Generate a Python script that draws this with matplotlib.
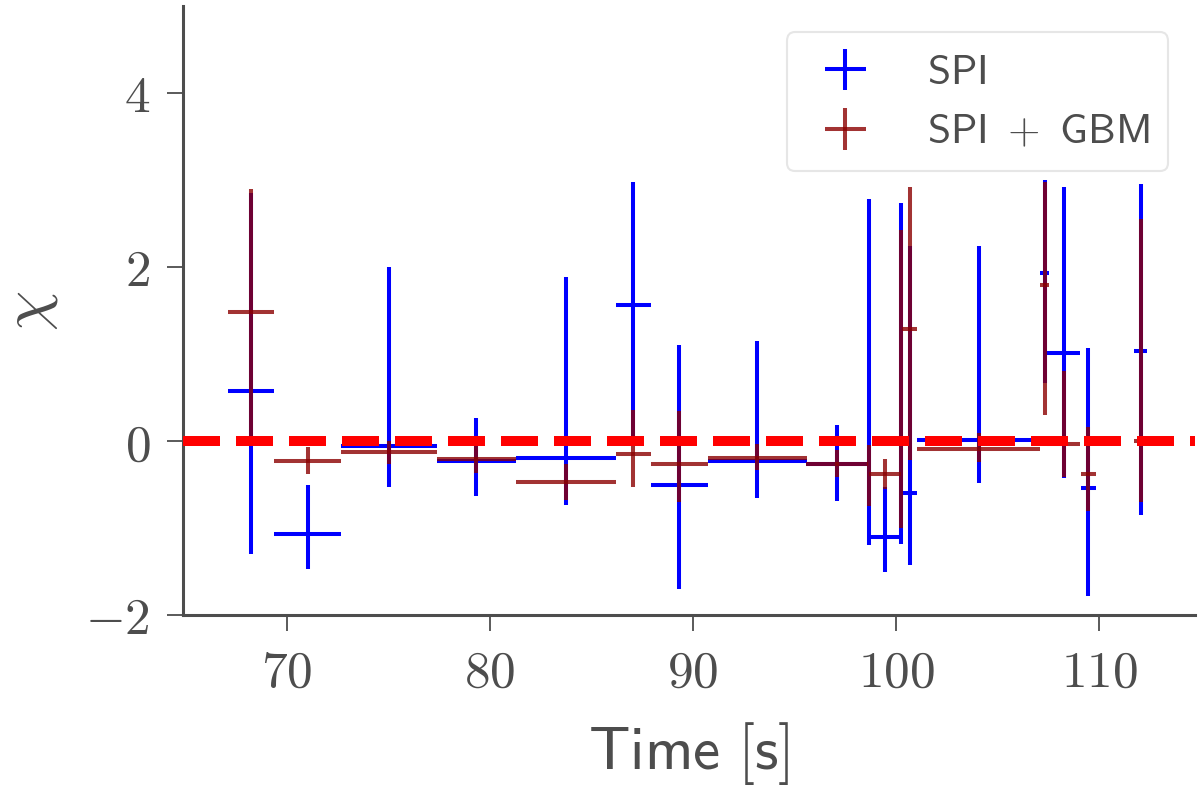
import numpy as np
import matplotlib
matplotlib.use('Agg')
import matplotlib.pyplot as plt
from matplotlib.ticker import FuncFormatter

plt.rcParams['mathtext.fontset'] = 'cm'
plt.rcParams['font.family'] = ['DejaVu Sans']

# time bins (centre, half width)
t = [68.24, 71.03, 75.02, 79.33, 83.74, 87.06, 89.33, 93.17, 97.09,
     98.64, 99.44, 100.25, 100.66, 104.06, 107.30, 108.25, 109.46, 112.02]
dt = [1.15, 1.64, 2.36, 1.94, 2.47, 0.86, 1.40, 2.44, 1.52,
      0.0, 0.78, 0.0, 0.38, 3.03, 0.21, 0.81, 0.39, 0.33]

# SPI residuals
spi = [0.57, -1.07, -0.06, -0.23, -0.20, 1.56, -0.51, -0.23, -0.27,
       0.0, -1.10, 0.0, -0.60, 0.01, 1.93, 1.01, -0.54, 1.03]
spi_lo = [1.87, 0.40, 0.47, 0.40, 0.54, 1.56, 1.19, 0.43, 0.42,
          1.20, 0.41, 1.18, 0.83, 0.49, 1.26, 1.44, 1.24, 1.88]
spi_hi = [2.28, 0.56, 2.06, 0.49, 2.08, 1.42, 1.61, 1.38, 0.45,
          2.78, 0.57, 2.74, 2.84, 2.23, 1.07, 1.91, 1.61, 1.92]

# SPI + GBM residuals
gbm = [1.48, -0.23, -0.13, -0.21, -0.47, -0.15, -0.26, -0.20, -0.27,
       -0.40, -0.38, 0.0, 1.29, -0.09, 1.79, -0.03, -0.38, 0.0]
gbm_lo = [1.42, 0.15, 0.13, 0.16, 0.21, 0.375, 0.44, 0.13, 0.14,
          0.35, 0.17, 1.00, 1.51, 0.15, 1.49, 0.38, 0.43, 0.70]
gbm_hi = [1.42, 0.16, 0.13, 0.18, 0.21, 0.51, 0.60, 0.17, 0.17,
          0.35, 0.17, 2.43, 1.63, 0.18, 1.19, 0.83, 0.54, 2.55]

grey = '0.3'
fig = plt.figure(figsize=(12, 7.87), dpi=100)
ax = fig.add_axes([0.1525, 0.2186, 0.8433, 0.7738])

ax.errorbar(t, spi, xerr=dt, yerr=[spi_lo, spi_hi], fmt='none',
            ecolor='blue', elinewidth=2.9, label=r'$\mathsf{SPI}$')
ax.errorbar(t, gbm, xerr=dt, yerr=[gbm_lo, gbm_hi], fmt='none',
            ecolor='darkred', elinewidth=2.9, alpha=0.8,
            label=r'$\mathsf{SPI}\ +\ \mathsf{GBM}$')
ax.axhline(0, color='red', ls='--', lw=7.2, zorder=5)

ax.set_xlim(64.9, 114.7)
ax.set_ylim(-2, 5)
ax.set_xticks([70, 80, 90, 100, 110])
ax.set_yticks([-2, 0, 2, 4])
fmt = FuncFormatter(lambda v, p: r'$%d$' % v)
ax.xaxis.set_major_formatter(fmt)
ax.yaxis.set_major_formatter(fmt)

for s in ['top', 'right']:
    ax.spines[s].set_visible(False)
for s in ['left', 'bottom']:
    ax.spines[s].set_color(grey)
    ax.spines[s].set_linewidth(2.2)
ax.tick_params(length=11.5, width=1.3, color=grey, labelcolor=grey,
               labelsize=37, pad=12)

ax.set_xlabel(r'$\mathsf{Time\ [s]}$', fontsize=44, color=grey, labelpad=16)
ax.set_ylabel(r'$\chi$', fontsize=46, color=grey, labelpad=18)

leg = ax.legend(loc='upper right', fontsize=30, frameon=True,
                bbox_to_anchor=(0.9733, 0.957), borderaxespad=0,
                handlelength=1.9, handletextpad=1.0, borderpad=0.45,
                labelspacing=0.42)
leg.get_frame().set_edgecolor('0.88')
leg.get_frame().set_linewidth(1.5)
for txt in leg.get_texts():
    txt.set_color(grey)

fig.savefig('out.png', dpi=100)
